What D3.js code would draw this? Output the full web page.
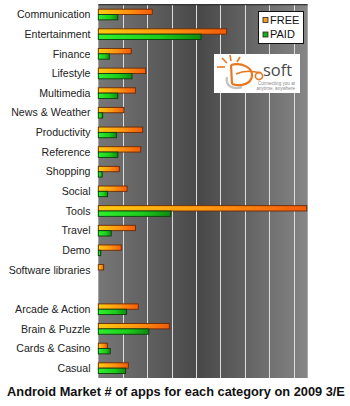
<!DOCTYPE html>
<html>
<head>
<meta charset="utf-8">
<script src="https://cdnjs.cloudflare.com/ajax/libs/d3/7.8.5/d3.min.js"></script>
<style>
  body { margin: 0; background: #fff; }
  svg { display: block; font-family: "Liberation Sans", Arial, sans-serif; }
</style>
</head>
<body>
<div class="container"></div>
<script>
// categories top to bottom, blank row separates games
var categories = ['Communication', 'Entertainment', 'Finance', 'Lifestyle', 'Multimedia',
  'News & Weather', 'Productivity', 'Reference', 'Shopping', 'Social', 'Tools', 'Travel',
  'Demo', 'Software libraries', ' ', 'Arcade & Action', 'Brain & Puzzle', 'Cards & Casino', 'Casual']
var freeApps = [221, 526, 135, 194, 152, 105, 182, 174, 86, 118, 854, 152, 94, 22, 0, 164, 291, 37, 123]
var paidApps = [80, 421, 45, 138, 80, 18, 74, 80, 16, 38, 297, 53, 10, 0, 0, 116, 207, 49, 112]
var seriesNames = ['FREE', 'PAID']
var gridTicks = [100, 200, 300, 400, 500, 600, 700, 800]
var titleText = 'Android Market # of apps for each category on 2009 3/E'

var chart = { width: 350, height: 406, left: 98.3, right: 307.7, top: 4.7, bottom: 378 }

var svg = d3.select('.container').append('svg')
  .attr('width', chart.width)
  .attr('height', chart.height)

var defs = svg.append('defs')

var bg = defs.append('linearGradient').attr('id', 'bgGrad')
bg.append('stop').attr('offset', '0%').attr('stop-color', '#777')
bg.append('stop').attr('offset', '48%').attr('stop-color', '#484848')
bg.append('stop').attr('offset', '100%').attr('stop-color', '#868686')

var freeGrad = defs.append('linearGradient').attr('id', 'freeGrad')
freeGrad.append('stop').attr('offset', '0%').attr('stop-color', '#ffcc10')
freeGrad.append('stop').attr('offset', '55%').attr('stop-color', '#ff9410')
freeGrad.append('stop').attr('offset', '100%').attr('stop-color', '#f45a0a')

var paidGrad = defs.append('linearGradient').attr('id', 'paidGrad')
paidGrad.append('stop').attr('offset', '0%').attr('stop-color', '#2ef02e')
paidGrad.append('stop').attr('offset', '60%').attr('stop-color', '#1ccc1c')
paidGrad.append('stop').attr('offset', '100%').attr('stop-color', '#0f8a0f')

var x = d3.scaleLinear().domain([0, 858]).range([chart.left, chart.right])
var y = d3.scaleBand().domain(categories).range([chart.top, chart.bottom]).padding(0)
var sub = d3.scaleBand().domain(seriesNames).range([0, y.bandwidth()]).paddingInner(0).paddingOuter(0.84)

// plot background
svg.append('rect')
  .attr('x', chart.left).attr('y', chart.top)
  .attr('width', chart.right - chart.left).attr('height', chart.bottom - chart.top)
  .attr('fill', 'url(#bgGrad)')

// grid lines
svg.selectAll('.grid').data(gridTicks).enter().append('line')
  .attr('class', 'grid')
  .attr('x1', function (d) { return Math.round(x(d)) + 0.5 })
  .attr('x2', function (d) { return Math.round(x(d)) + 0.5 })
  .attr('y1', chart.top).attr('y2', chart.bottom)
  .attr('stroke', '#dcdcdc').attr('stroke-width', 1)

// top border
svg.append('line')
  .attr('x1', chart.left).attr('x2', chart.right)
  .attr('y1', chart.top).attr('y2', chart.top)
  .attr('stroke', '#111').attr('stroke-width', 1)

var rows = categories.map(function (c, i) {
  return { cat: c, FREE: freeApps[i], PAID: paidApps[i] }
})

var bars = []
rows.forEach(function (r) {
  seriesNames.forEach(function (s) {
    if (r[s] > 0) bars.push({ cat: r.cat, series: s, value: r[s] })
  })
})

svg.selectAll('.bar').data(bars).enter().append('rect')
  .attr('class', 'bar')
  .attr('x', x(0))
  .attr('y', function (d) { return y(d.cat) + sub(d.series) })
  .attr('width', function (d) { return x(d.value) - x(0) })
  .attr('height', sub.bandwidth())
  .attr('fill', function (d) { return d.series == 'FREE' ? 'url(#freeGrad)' : 'url(#paidGrad)' })
  .attr('stroke', function (d) { return d.series == 'FREE' ? '#6a2a05' : '#0d3d0d' })
  .attr('stroke-width', 0.9)

// category labels
svg.selectAll('.label').data(categories).enter().append('text')
  .attr('class', 'label')
  .attr('x', 90.5)
  .attr('y', function (d) { return y(d) + y.bandwidth() / 2 })
  .attr('dy', '0.35em')
  .attr('text-anchor', 'end')
  .attr('font-size', 10.6)
  .attr('fill', '#222')
  .text(function (d) { return d })

// legend
var legend = svg.append('g').attr('transform', 'translate(258.5,11.5)')
legend.append('rect').attr('width', 45).attr('height', 32)
  .attr('fill', '#fff').attr('stroke', '#111').attr('stroke-width', 1)
seriesNames.forEach(function (s, i) {
  legend.append('rect')
    .attr('x', 4.5).attr('y', 6 + i * 14.5)
    .attr('width', 5).attr('height', 5)
    .attr('fill', i == 0 ? '#f0a020' : '#18b018')
    .attr('stroke', '#222').attr('stroke-width', 0.8)
  legend.append('text')
    .attr('x', 11.5).attr('y', 8.5 + i * 14.5)
    .attr('dy', '0.35em')
    .attr('font-size', 11)
    .attr('fill', '#111')
    .text(s)
})

// logo
var logo = svg.append('g').attr('transform', 'translate(214,54)')
logo.append('rect').attr('width', 86).attr('height', 39).attr('fill', '#fff')
logo.append('path')
  .attr('d', 'M13,23 C11,32 19,36 28,33')
  .attr('fill', 'none').attr('stroke', '#c4c4c4').attr('stroke-width', 2.4)
logo.append('path')
  .attr('d', 'M17,11 L18,30 M17,11 C28,8 39,14 38,22 C37,30 27,33 18,30')
  .attr('fill', 'none').attr('stroke', '#e87820').attr('stroke-width', 2.2)
logo.append('path')
  .attr('d', 'M22,20 C30,16 40,17 46,19')
  .attr('fill', 'none').attr('stroke', '#e87820').attr('stroke-width', 1.6)
logo.append('circle').attr('cx', 45).attr('cy', 22).attr('r', 3.6)
  .attr('fill', 'none').attr('stroke', '#e87820').attr('stroke-width', 1.6)
var rays = [[3, 13, 11, 13], [8, 4, 13, 9], [16, 1, 17, 7], [26, 3, 23, 8]]
logo.selectAll('.ray').data(rays).enter().append('line')
  .attr('x1', function (d) { return d[0] }).attr('y1', function (d) { return d[1] })
  .attr('x2', function (d) { return d[2] }).attr('y2', function (d) { return d[3] })
  .attr('stroke', '#e87820').attr('stroke-width', 1.6)
logo.append('text').attr('x', 49).attr('y', 21.5)
  .attr('font-size', 16.5).attr('font-family', '"Open Sans", Lato, sans-serif')
  .attr('fill', '#4a4a4a').text('soft')
logo.append('text').attr('x', 81).attr('y', 30.5)
  .attr('text-anchor', 'end').attr('font-size', 4.6).attr('fill', '#888')
  .text('Connecting you at')
logo.append('text').attr('x', 81).attr('y', 35.8)
  .attr('text-anchor', 'end').attr('font-size', 4.6).attr('fill', '#888')
  .text('anytime, anywhere')

// title
svg.append('text')
  .attr('x', 176).attr('y', 396)
  .attr('text-anchor', 'middle')
  .attr('font-size', 12.8).attr('font-weight', 'bold')
  .attr('fill', '#111')
  .text(titleText)
</script>
</body>
</html>
